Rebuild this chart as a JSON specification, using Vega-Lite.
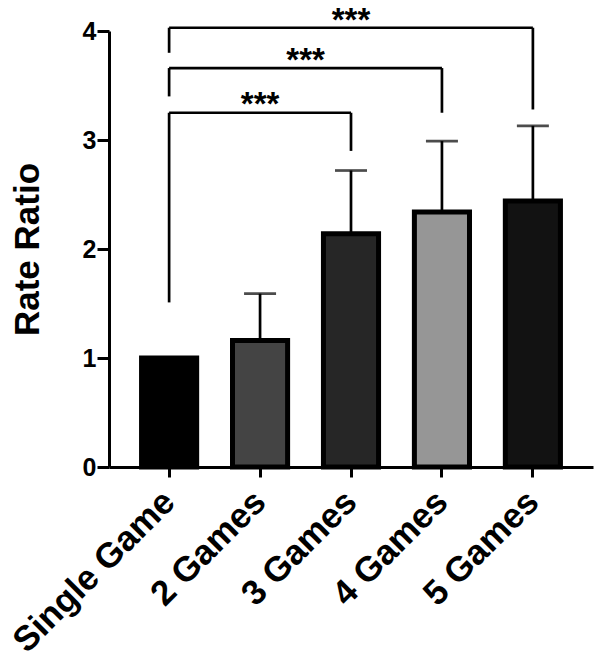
{
  "$schema": "https://vega.github.io/schema/vega-lite/v6.json",
  "width": 484,
  "height": 436,
  "autosize": "none",
  "padding": {"top": 31, "left": 109, "right": 7, "bottom": 197},
  "background": "white",
  "config": {
    "view": {"stroke": null},
    "font": "Liberation Sans",
    "axis": {
      "domainColor": "black",
      "domainWidth": 3,
      "tickColor": "black",
      "tickWidth": 3,
      "labelColor": "black",
      "labelFont": "Liberation Sans",
      "labelFontWeight": "bold",
      "titleColor": "black",
      "titleFont": "Liberation Sans",
      "titleFontWeight": "bold",
      "grid": false
    }
  },
  "datasets": {
    "bars": [
      {"group": "Single Game", "rr": 1.0},
      {"group": "2 Games", "rr": 1.16},
      {"group": "3 Games", "rr": 2.14},
      {"group": "4 Games", "rr": 2.34},
      {"group": "5 Games", "rr": 2.44}
    ],
    "errors": [
      {"group": "2 Games", "rr": 1.16, "upper": 1.59},
      {"group": "3 Games", "rr": 2.14, "upper": 2.72},
      {"group": "4 Games", "rr": 2.34, "upper": 2.99},
      {"group": "5 Games", "rr": 2.44, "upper": 3.13}
    ],
    "brackets": [
      {"from": "Single Game", "to": "3 Games", "level": 3.25},
      {"from": "Single Game", "to": "4 Games", "level": 3.66},
      {"from": "Single Game", "to": "5 Games", "level": 4.03}
    ],
    "legs": [
      {"group": "Single Game", "bottom": 1.51, "top": 3.25},
      {"group": "3 Games", "bottom": 2.9, "top": 3.25},
      {"group": "Single Game", "bottom": 3.4, "top": 3.66},
      {"group": "4 Games", "bottom": 3.25, "top": 3.66},
      {"group": "Single Game", "bottom": 3.8, "top": 4.03},
      {"group": "5 Games", "bottom": 3.28, "top": 4.03}
    ],
    "starsCentered": [
      {"group": "2 Games", "y": 3.4, "label": "***"},
      {"group": "3 Games", "y": 4.17, "label": "***"}
    ],
    "starsBetween": [
      {"group": "2 Games", "y": 3.81, "label": "***"}
    ]
  },
  "encoding": {
    "x": {
      "field": "group",
      "type": "nominal",
      "sort": ["Single Game", "2 Games", "3 Games", "4 Games", "5 Games"],
      "scale": {
        "domain": ["Single Game", "2 Games", "3 Games", "4 Games", "5 Games"],
        "paddingInner": 0.394,
        "paddingOuter": 0.358
      },
      "axis": {
        "title": null,
        "labelAngle": -45,
        "labelAlign": "right",
        "labelBaseline": "middle",
        "labelFontSize": 35,
        "labelPadding": 19,
        "labelLimit": 0,
        "tickSize": 10
      }
    }
  },
  "layer": [
    {
      "data": {"name": "errors"},
      "mark": {"type": "rule", "color": "black", "strokeWidth": 2.7},
      "encoding": {
        "y": {"field": "rr", "type": "quantitative"},
        "y2": {"field": "upper"}
      }
    },
    {
      "data": {"name": "errors"},
      "mark": {"type": "tick", "color": "black", "size": 32, "thickness": 2.7, "orient": "horizontal"},
      "encoding": {
        "y": {"field": "upper", "type": "quantitative"}
      }
    },
    {
      "data": {"name": "bars"},
      "mark": {"type": "bar", "stroke": "black", "strokeWidth": 5},
      "encoding": {
        "y": {
          "field": "rr",
          "type": "quantitative",
          "scale": {"domain": [0, 4], "nice": false},
          "axis": {
            "title": "Rate Ratio",
            "titleFontSize": 35,
            "titlePadding": 37,
            "values": [0, 1, 2, 3, 4],
            "format": "d",
            "labelFontSize": 25,
            "labelPadding": 1,
            "tickSize": 12
          }
        },
        "color": {
          "field": "group",
          "type": "nominal",
          "scale": {
            "domain": ["Single Game", "2 Games", "3 Games", "4 Games", "5 Games"],
            "range": ["#000000", "#444444", "#262626", "#969696", "#121212"]
          },
          "legend": null
        }
      }
    },
    {
      "data": {"name": "brackets"},
      "mark": {"type": "rule", "color": "black", "strokeWidth": 2.7},
      "encoding": {
        "x": {"field": "from", "type": "nominal"},
        "x2": {"field": "to"},
        "y": {"field": "level", "type": "quantitative"}
      }
    },
    {
      "data": {"name": "legs"},
      "mark": {"type": "rule", "color": "black", "strokeWidth": 2.7},
      "encoding": {
        "y": {"field": "bottom", "type": "quantitative"},
        "y2": {"field": "top"}
      }
    },
    {
      "data": {"name": "starsCentered"},
      "mark": {"type": "text", "font": "Liberation Sans", "fontWeight": "bold", "fontSize": 33, "baseline": "alphabetic", "dy": 19, "color": "black"},
      "encoding": {
        "y": {"field": "y", "type": "quantitative"},
        "text": {"field": "label"}
      }
    },
    {
      "data": {"name": "starsBetween"},
      "mark": {"type": "text", "font": "Liberation Sans", "fontWeight": "bold", "fontSize": 33, "baseline": "alphabetic", "dy": 19, "dx": 45.5, "color": "black"},
      "encoding": {
        "y": {"field": "y", "type": "quantitative"},
        "text": {"field": "label"}
      }
    }
  ]
}
